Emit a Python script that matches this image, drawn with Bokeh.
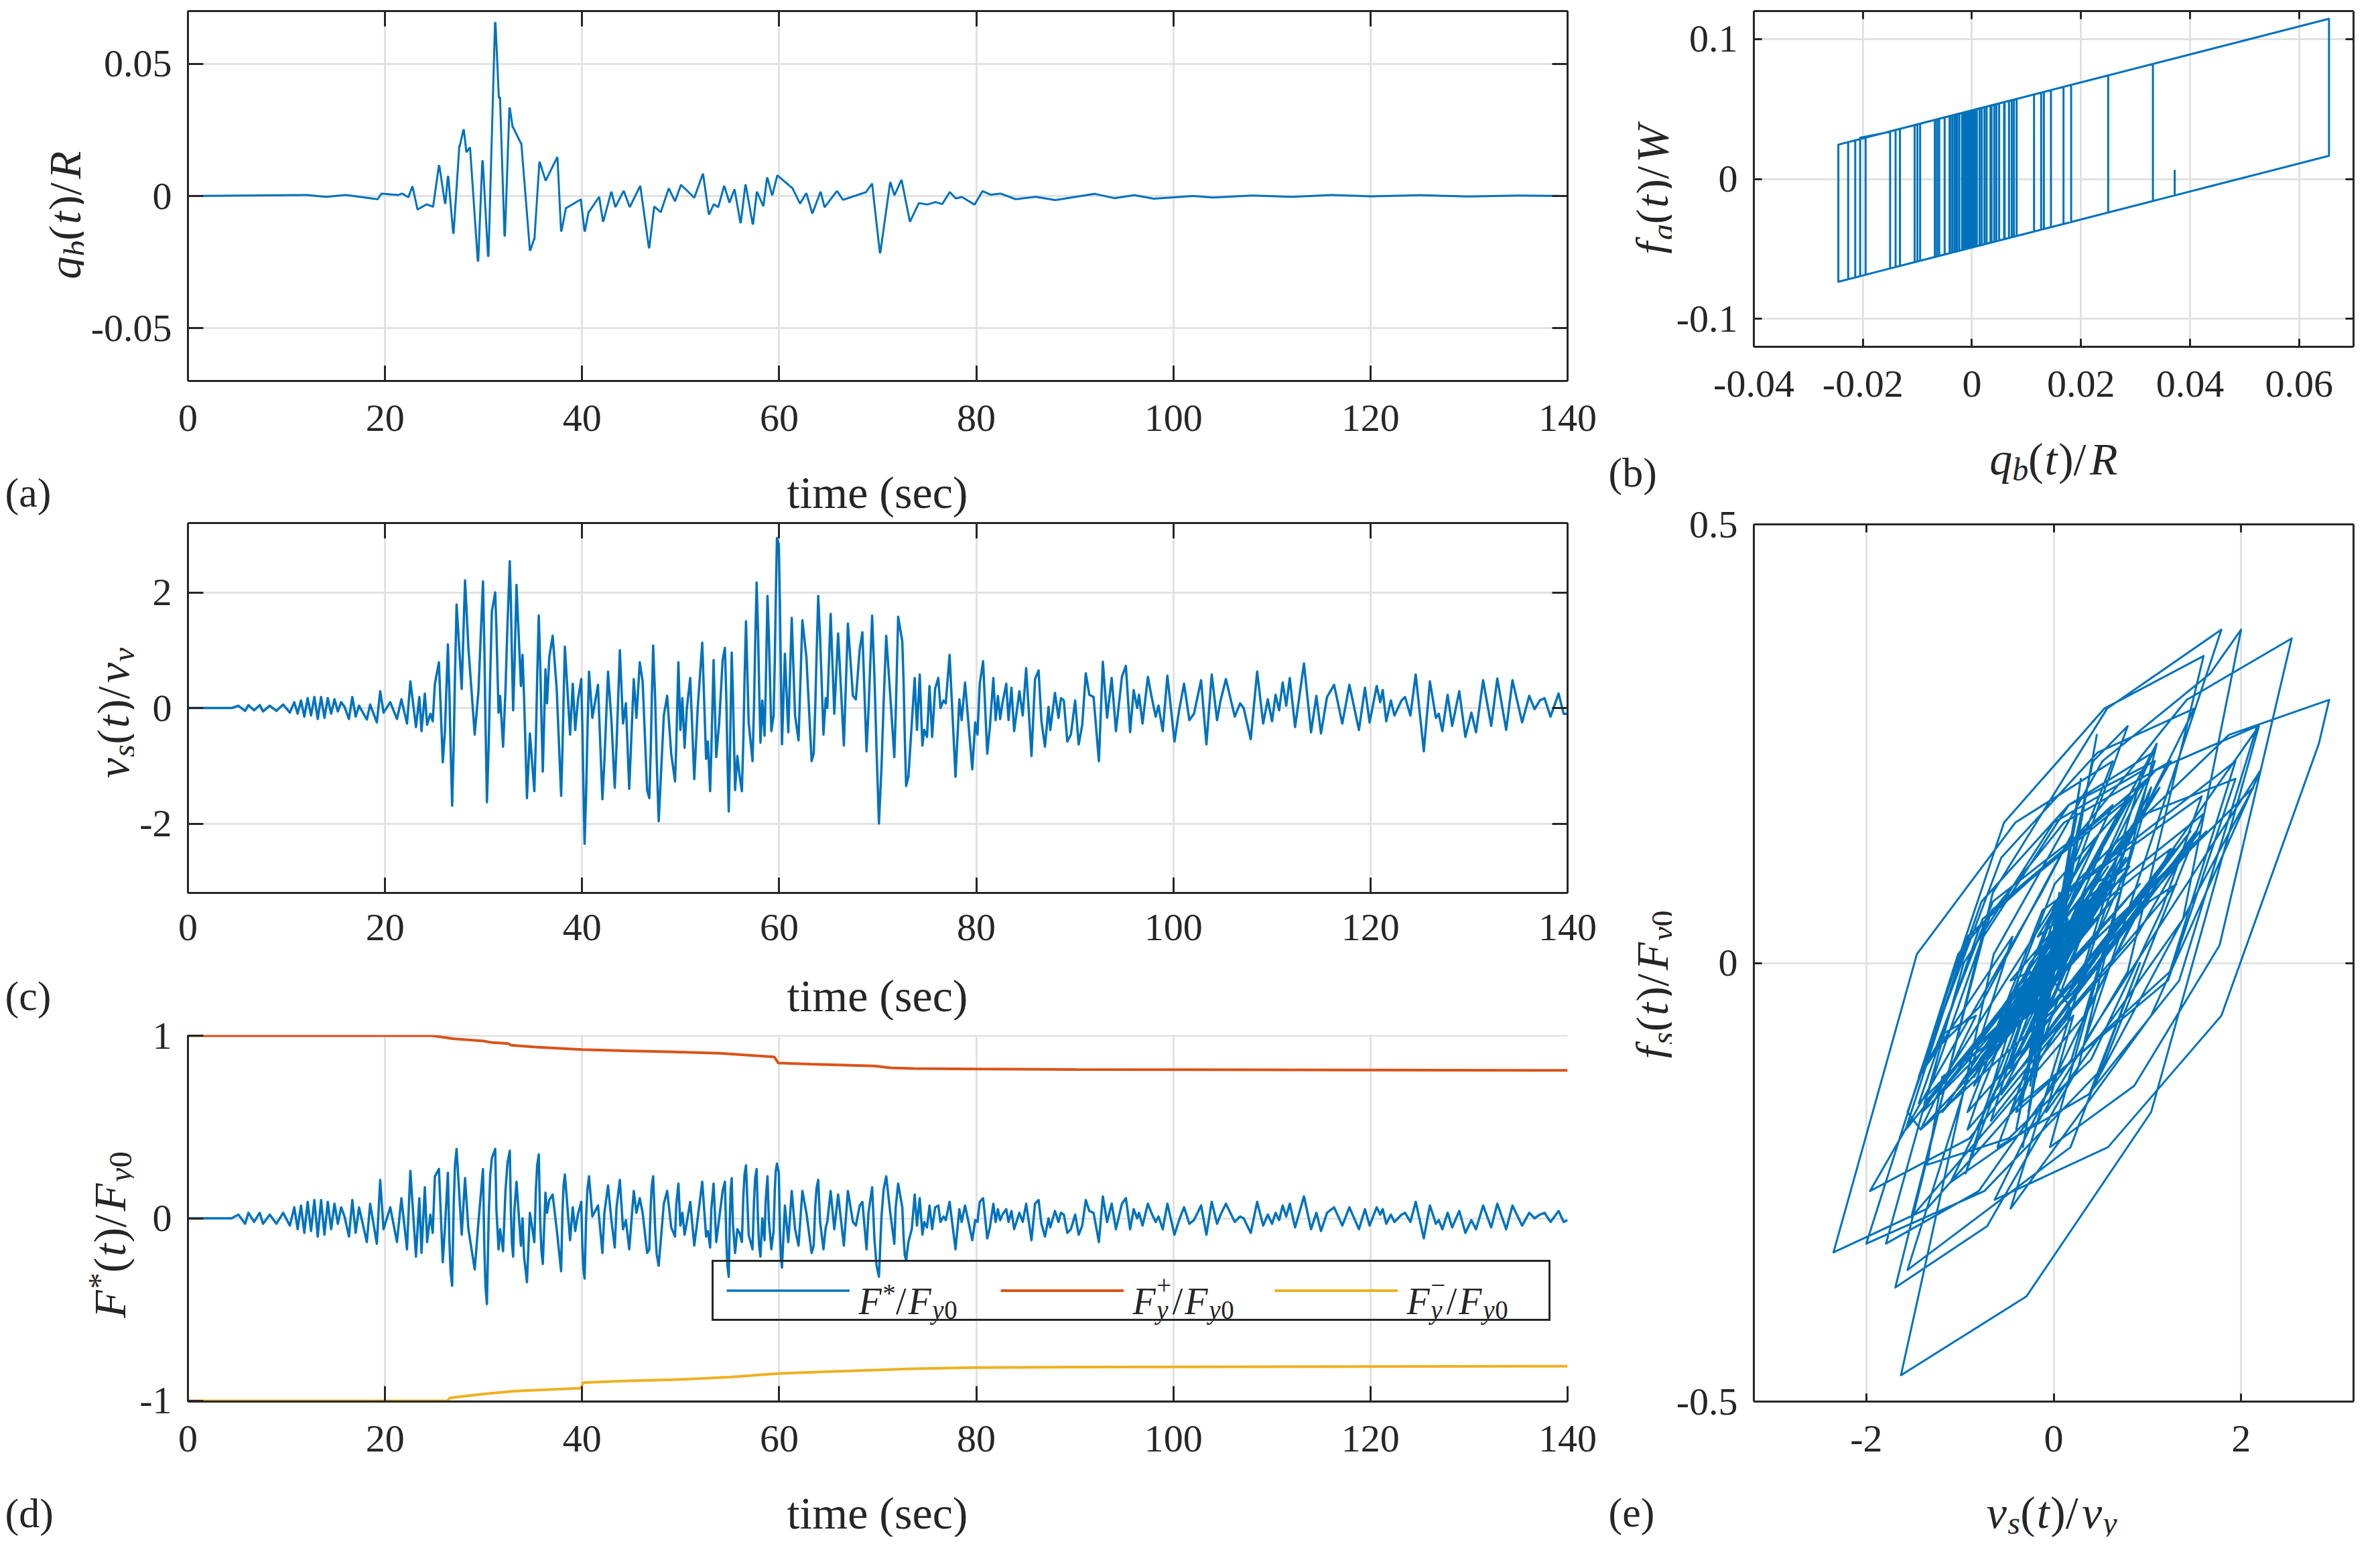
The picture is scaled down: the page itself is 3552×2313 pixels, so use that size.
from math import pi
from bokeh.plotting import figure
from bokeh.layouts import row, column
from bokeh.models import (Range1d, FixedTicker, LinearAxis, Label, Legend,
                          LegendItem, CustomJSTickFormatter)
from bokeh.embed import file_html
from bokeh.resources import INLINE

# ---- data ----
# (a)/(b): base isolator displacement q_b/R at its turning points and the
# friction force f_a/W just before / just after each reversal
qb_t = [0.0, 12.0, 14.0, 16.0, 19.21, 19.63, 21.29, 21.71, 22.33, 22.75,
        23.29, 24.21, 24.83, 25.46, 26.08, 26.37, 26.91, 27.54, 27.95, 28.25,
        28.58, 29.41, 29.87, 30.45, 31.16, 31.55, 31.62, 32.12, 32.62, 32.95,
        33.78, 34.70, 35.11, 35.66, 36.28, 37.45, 37.86, 38.36, 39.82, 40.24,
        40.65, 41.69, 42.11, 42.94, 43.36, 44.19, 44.81, 45.86, 46.77, 47.31,
        47.94, 48.77, 49.40, 50.02, 51.35, 52.23, 52.85, 53.35, 53.77, 54.39,
        54.93, 55.43, 56.06, 56.56, 57.30, 57.72, 58.35, 58.76, 59.26, 59.80,
        61.26, 62.09, 62.72, 63.34, 64.17, 64.59, 65.84, 66.46, 68.75, 69.38,
        70.21, 71.25, 71.67, 72.38, 73.25, 74.17, 75.00, 75.83, 76.50, 77.29,
        77.91, 78.50, 79.79, 80.62, 81.45, 82.41, 84.0, 86.0, 88.0, 92.0,
        94.0, 96.0, 98.0, 102.0, 104.0, 108.0, 112.0, 116.0, 120.0, 125.0,
        130.0, 135.0, 140.0]
qb = [0.0, 0.0004, -0.0003, 0.0004, -0.0012, 0.0009, 0.0004, 0.0009, -0.0004, 0.0034,
      -0.0050, -0.0032, -0.0040, 0.0114, -0.0027, 0.0073, -0.0140, 0.0190, 0.0250, 0.0168,
      0.0182, -0.0245, 0.0132, -0.0227, 0.0655, 0.0372, 0.0372, -0.0150, 0.0332, 0.0260,
      0.0200, -0.0205, -0.0164, 0.0127, 0.0060, 0.0145, -0.0132, -0.0045, -0.0014, -0.0132,
      -0.0060, -0.0005, -0.0095, 0.0014, -0.0040, 0.0018, -0.0040, 0.0036, -0.0195, -0.0041,
      -0.0060, 0.0027, -0.0018, 0.0041, -0.0005, 0.0082, -0.0068, -0.0032, -0.0041, 0.0036,
      -0.0023, 0.0023, -0.0100, 0.0041, -0.0105, 0.0014, -0.0036, 0.0068, 0.0005, 0.0077,
      0.0032, -0.0027, 0.0009, -0.0064, 0.0014, -0.0041, 0.0018, -0.0014, 0.0014, 0.0045,
      -0.0214, 0.0050, 0.0005, 0.0059, -0.0095, -0.0027, -0.0032, -0.0023, -0.0030, 0.0014,
      -0.0009, -0.0004, -0.0032, 0.0018, 0.0005, 0.0009, -0.0012, -0.0003, -0.0015, 0.0008,
      -0.0008, 0.0003, -0.0010, 0.0000, -0.0006, 0.0002, -0.0003, 0.0004, -0.0001, 0.0003,
      -0.0002, 0.0002, 0.0000]
fa_in = [0.0, 0.0494, -0.0493, 0.0494, -0.0502, 0.0499, -0.0486, 0.0499, -0.0494, 0.0524,
         -0.0540, 0.0458, -0.0530, 0.0604, -0.0517, 0.0563, -0.0630, 0.0680, 0.0740, -0.0322,
         0.0672, -0.0735, 0.0622, -0.0717, 0.1145, -0.0118, 0.0060, -0.0640, 0.0822, -0.0230,
         -0.0290, -0.0695, 0.0326, 0.0617, -0.0430, 0.0635, -0.0622, 0.0445, 0.0476, -0.0622,
         0.0430, 0.0485, -0.0585, 0.0504, -0.0530, 0.0508, -0.0530, 0.0526, -0.0685, 0.0449,
         -0.0550, 0.0517, -0.0508, 0.0531, -0.0495, 0.0572, -0.0558, 0.0458, -0.0531, 0.0526,
         -0.0513, 0.0513, -0.0590, 0.0531, -0.0595, 0.0504, -0.0526, 0.0558, -0.0485, 0.0567,
         -0.0458, -0.0517, 0.0499, -0.0554, 0.0504, -0.0531, 0.0508, -0.0504, 0.0504, 0.0535,
         -0.0704, 0.0540, -0.0485, 0.0549, -0.0585, 0.0463, -0.0522, 0.0467, -0.0520, 0.0504,
         -0.0499, 0.0486, -0.0522, 0.0508, -0.0485, 0.0499, -0.0502, 0.0487, -0.0505, 0.0498,
         -0.0498, 0.0493, -0.0500, 0.0490, -0.0496, 0.0492, -0.0493, 0.0494, -0.0491, 0.0493,
         -0.0492, 0.0492, -0.0490]
fa_out = [0.0, -0.0486, 0.0487, -0.0486, 0.0478, -0.0481, 0.0494, -0.0481, 0.0486, -0.0456,
          0.0440, -0.0522, 0.0450, -0.0376, 0.0463, -0.0417, 0.0350, 0.0680, -0.0240, 0.0658,
          -0.0308, 0.0245, -0.0358, 0.0263, 0.0165, 0.0060, -0.0118, 0.0340, -0.0158, -0.0230,
          -0.0290, 0.0295, 0.0326, -0.0363, 0.0550, -0.0345, 0.0358, 0.0445, -0.0504, 0.0358,
          0.0430, -0.0495, 0.0395, -0.0476, 0.0450, -0.0472, 0.0450, -0.0454, 0.0295, -0.0531,
          0.0430, -0.0463, 0.0472, -0.0449, 0.0485, -0.0408, 0.0422, -0.0522, 0.0449, -0.0454,
          0.0467, -0.0467, 0.0390, -0.0449, 0.0385, -0.0476, 0.0454, -0.0422, 0.0495, -0.0413,
          -0.0458, 0.0463, -0.0481, 0.0426, -0.0476, 0.0449, -0.0472, 0.0476, 0.0504, -0.0445,
          0.0276, -0.0440, 0.0495, -0.0431, 0.0395, -0.0517, 0.0458, -0.0513, 0.0460, -0.0476,
          0.0481, -0.0494, 0.0458, -0.0472, 0.0495, -0.0481, 0.0478, -0.0493, 0.0475, -0.0482,
          0.0482, -0.0487, 0.0480, -0.0490, 0.0484, -0.0488, 0.0487, -0.0486, 0.0489, -0.0487,
          0.0488, -0.0488, -0.0490]

# (c)/(d)/(e): superstructure drift v_s/v_y and restoring force F*/F_y0
vs_t = [0.0, 4.44, 5.12, 5.80, 6.14, 6.71, 7.28, 7.62, 8.30, 8.98,
        9.66, 10.34, 10.79, 11.13, 11.47, 11.81, 12.15, 12.49, 12.83, 13.17,
        13.51, 13.85, 14.19, 14.53, 14.87, 15.21, 15.55, 15.89, 16.34, 16.68,
        17.02, 17.36, 18.15, 18.49, 19.17, 19.51, 19.85, 20.53, 21.21, 21.66,
        22.23, 22.57, 23.14, 23.48, 23.70, 24.04, 24.27, 24.60, 24.84, 25.06,
        25.47, 25.86, 26.08, 26.38, 26.53, 26.66, 26.81, 26.97, 27.10, 27.26, 27.78, 28.12,
        28.46, 29.10, 29.48, 29.94, 30.08, 30.20, 30.34, 30.52, 30.67, 30.84, 31.18, 31.30,
        31.52, 31.68, 31.98, 32.22, 32.42, 32.66, 32.78, 32.88, 33.00, 33.12, 33.34, 33.79,
        33.95, 34.11, 34.40, 34.70, 35.15, 35.31, 35.44, 35.60, 35.74, 35.87, 36.01, 36.28,
        36.44, 36.67, 37.01, 37.42, 37.87, 38.00, 38.12, 38.25, 38.78, 39.05, 39.30,
        39.57, 39.91, 40.03, 40.13, 40.25, 40.41, 40.54, 40.70, 41.04, 41.61, 42.06, 42.26,
        42.63, 42.97, 43.31, 43.49, 43.83, 44.15, 44.44, 44.78, 45.24, 45.51,
        45.85, 46.14, 46.60, 46.82, 46.96, 47.07, 47.21, 47.41, 47.57, 47.77, 48.29, 48.63,
        49.04, 49.43, 49.55, 49.77, 49.97, 50.17, 50.40, 50.63, 50.97, 51.38,
        51.73, 52.19, 52.58, 52.76, 52.99, 53.11, 53.34, 53.61, 53.91, 54.26,
        54.49, 54.63, 54.74, 54.88, 54.99, 55.08, 55.18, 55.30, 55.52, 55.75, 55.98, 56.21,
        56.36, 56.48, 56.63, 56.90, 57.29, 57.44, 57.56, 57.71, 57.85, 57.96, 58.10, 58.28, 58.51,
        58.62, 58.81, 58.95, 59.20, 59.43, 59.55, 59.65, 59.77, 59.96, 60.07, 60.17, 60.28,
        60.58, 60.92, 61.27, 61.61, 61.96, 62.35, 62.76, 63.29, 63.50, 63.66,
        63.80, 63.96, 64.15, 64.49, 64.72, 64.88, 65.22, 65.59, 65.98, 66.56, 66.97,
        67.48, 67.78, 68.17, 68.44, 68.86, 69.06, 69.43, 69.67, 69.88, 70.12, 70.38, 70.60,
        70.86, 71.27, 71.68, 71.82, 72.07, 72.49, 72.63, 72.74, 72.88, 73.11, 73.45,
        73.75, 73.98, 74.26, 74.53, 74.72, 75.00, 75.25, 75.52, 75.82, 76.14,
        76.37, 76.67, 76.90, 77.29, 77.89, 78.28, 78.51, 78.86, 79.59, 79.89,
        80.12, 80.35, 80.69, 81.11, 81.38, 81.73, 81.96, 82.19, 82.42, 82.65,
        83.04, 83.27, 83.57, 83.84, 84.37, 84.71, 85.06, 85.60, 85.96, 86.32,
        86.61, 86.97, 87.33, 87.51, 87.98, 88.34, 88.59, 88.88, 89.24, 89.60,
        90.03, 90.39, 90.75, 91.11, 91.47, 91.90, 92.44, 92.84, 93.27, 93.74,
        94.17, 94.78, 95.18, 95.61, 95.97, 96.33, 96.51, 96.87, 97.41, 97.77,
        98.20, 98.49, 98.92, 99.39, 100.11, 100.58, 101.08, 101.62, 102.09, 102.81,
        103.35, 103.89, 104.43, 104.79, 105.33, 106.23, 106.77, 107.13, 107.85, 108.50,
        109.11, 109.58, 110.01, 110.37, 110.73, 111.09, 111.45, 111.81, 112.35, 113.25,
        113.97, 114.51, 114.98, 115.59, 116.31, 117.14, 117.86, 118.83, 119.44, 119.91,
        120.63, 120.99, 121.24, 121.60, 122.07, 122.43, 123.15, 123.51, 124.05, 124.59,
        125.41, 126.03, 126.64, 126.93, 127.29, 127.83, 128.29, 129.01, 129.63, 130.24,
        130.71, 131.43, 132.25, 132.87, 133.77, 134.41, 135.39, 136.11, 136.65, 137.19,
        137.66, 138.27, 139.09, 139.60, 140.00]
vs = [0.0, 0.0, 0.04, -0.05, 0.05, -0.04, 0.05, -0.06, 0.04, -0.05,
      0.06, -0.08, 0.10, -0.10, 0.13, -0.15, 0.17, -0.13, 0.19, -0.19,
      0.19, -0.17, 0.17, -0.10, 0.15, -0.06, 0.10, 0.02, -0.19, 0.19,
      -0.15, 0.04, -0.20, 0.06, -0.25, 0.29, -0.08, 0.10, -0.19, 0.15,
      -0.27, 0.46, -0.33, 0.19, -0.40, 0.25, -0.29, -0.10, -0.23, 0.42,
      0.79, -0.94, -0.40, 1.10, 0.26, -0.71, -1.69, -0.65, 0.57, 1.79, 0.33, 2.21,
      1.04, -0.46, 0.29, 2.19, 1.04, -0.29, -1.63, -0.64, 0.52, 1.67, 2.00, 1.38,
      -0.08, 0.21, -0.67, 0.29, 1.42, 2.54, 1.77, 0.86, -0.04, 0.61, 2.13, 0.38,
      0.92, 0.18, -1.56, -0.44, -1.44, -0.53, 0.54, 1.60, 0.79, -0.16, -1.10, 0.67,
      0.08, 0.88, 1.25, 0.33, -1.52, -0.75, 0.16, 1.06, -0.46, 0.42, -0.38,
      0.13, 0.50, -0.36, -1.35, -2.35, -1.46, -0.41, 0.63, -0.17, 0.40, -1.58, -0.92,
      0.63, -0.21, -1.38, -0.66, 1.00, -0.27, 0.08, -1.40, 0.50, -0.17,
      0.79, 0.46, -1.42, -1.56, -0.77, 0.16, 1.08, 0.17, -0.90, -1.96, -0.13, 0.21,
      -0.79, -1.27, -0.65, 0.79, -0.38, 0.17, -0.69, 0.00, 0.52, -1.23,
      0.00, 1.13, -0.88, -0.58, -1.44, -0.76, 0.83, -0.85, -0.25, 0.83,
      1.04, 0.19, -0.80, -1.79, -0.96, 0.00, 0.96, 0.25, -1.42, -0.83, -1.17, -1.44,
      -0.56, 0.47, 1.50, -0.25, -0.92, 0.01, 1.09, 2.17, 1.34, 0.37, -0.60, 0.13, -0.48,
      0.25, 1.94, 1.24, -0.40, -0.13, 0.80, 1.87, 2.94, 2.83, 1.79, 0.58, -0.63,
      0.94, -0.42, 1.56, -0.13, -0.56, 1.52, 0.88, -0.92, -0.79, 0.03,
      0.98, 1.94, 1.22, -0.46, 0.17, 0.00, 1.63, -0.10, 1.29, -0.65, 1.46,
      0.21, 0.15, 1.02, 1.31, -0.75, -0.04, 1.60, 0.52, -0.74, -2.00, -1.02, 0.11,
      1.25, 0.21, -0.85, -0.12, 1.58, 1.15, 0.40, -0.48, -1.35, -1.19, -0.27,
      0.52, -0.38, 0.58, -0.65, -0.38, -0.50, 0.38, -0.50, 0.33, 0.52,
      0.00, 0.13, 0.08, 0.92, -1.19, 0.15, -0.21, 0.44, -1.06, -0.25,
      -0.46, 0.42, 0.81, -0.79, -0.33, 0.52, -0.21, 0.21, -0.19, 0.08,
      0.42, -0.21, 0.35, -0.40, 0.29, -0.13, 0.69, -0.83, 0.50, 0.65,
      -0.23, -0.67, 0.02, -0.38, 0.26, -0.17, 0.17, 0.13, -0.58, -0.46,
      0.13, -0.63, -0.29, 0.60, 0.23, 0.19, -0.92, 0.80, -0.17, 0.52,
      -0.40, 0.54, 0.73, -0.42, 0.31, 0.00, 0.23, -0.27, 0.54, 0.21,
      -0.15, 0.04, -0.40, 0.56, -0.58, -0.04, 0.42, -0.21, -0.10, 0.48,
      -0.63, 0.58, -0.21, 0.13, 0.50, -0.15, 0.08, 0.00, -0.54, 0.63,
      -0.27, 0.15, -0.23, 0.23, -0.04, 0.44, 0.04, 0.52, -0.33, 0.77,
      -0.42, 0.21, -0.44, 0.19, 0.40, -0.27, 0.40, -0.38, 0.35, -0.25,
      0.38, 0.10, 0.31, -0.23, 0.13, -0.13, 0.13, 0.19, -0.13, 0.58,
      -0.75, 0.46, -0.17, -0.10, -0.40, 0.23, -0.31, 0.29, -0.50, -0.08,
      -0.42, 0.48, -0.31, 0.51, -0.38, 0.48, -0.25, 0.21, -0.02, 0.13,
      0.17, -0.15, 0.25, -0.10, -0.10]
fs = [0.0, 0.0, 0.02, -0.03, 0.03, -0.02, 0.03, -0.03, 0.02, -0.03,
      0.03, -0.04, 0.06, -0.06, 0.07, -0.08, 0.09, -0.07, 0.10, -0.10,
      0.10, -0.09, 0.09, -0.06, 0.08, -0.03, 0.06, 0.01, -0.10, 0.10,
      -0.08, 0.06, -0.13, 0.08, -0.14, 0.21, -0.06, 0.06, -0.13, 0.11,
      -0.17, 0.26, -0.21, 0.11, -0.19, 0.17, -0.13, 0.02, -0.08, 0.23,
      0.27, -0.24, -0.05, 0.25, -0.12, -0.30, -0.37, 0.08, 0.29, 0.38, -0.09, 0.22,
      -0.06, -0.28, -0.02, 0.27, -0.17, -0.38, -0.47, 0.01, 0.23, 0.33, 0.38, 0.05,
      -0.17, -0.06, -0.18, 0.15, 0.30, 0.37, 0.02, -0.14, -0.21, 0.04, 0.20, -0.15,
      0.00, -0.21, -0.35, 0.03, -0.13, 0.16, 0.29, 0.35, -0.01, -0.18, -0.25, 0.14,
      0.03, 0.10, 0.13, -0.06, -0.29, 0.03, 0.18, 0.24, -0.12, 0.06, -0.07,
      0.02, 0.09, -0.16, -0.28, -0.33, 0.01, 0.16, 0.23, 0.01, 0.07, -0.19, 0.03,
      0.18, -0.01, -0.16, 0.06, 0.21, -0.06, -0.01, -0.17, 0.15, 0.03,
      0.11, 0.03, -0.19, -0.17, 0.07, 0.18, 0.23, -0.06, -0.20, -0.26, 0.08, 0.15,
      -0.05, -0.10, 0.07, 0.19, -0.04, 0.03, -0.09, -0.02, 0.09, -0.15,
      0.00, 0.20, -0.10, -0.07, -0.16, 0.05, 0.19, -0.13, 0.00, 0.15,
      0.20, -0.11, -0.26, -0.32, 0.00, 0.16, 0.22, -0.03, -0.19, -0.06, -0.08, -0.13,
      0.12, 0.24, 0.29, -0.09, -0.17, 0.09, 0.22, 0.27, -0.02, -0.15, -0.21, 0.00, -0.12,
      0.09, 0.23, -0.01, -0.17, -0.07, 0.15, 0.26, 0.30, 0.25, -0.06, -0.21, -0.27,
      0.07, -0.13, 0.15, -0.06, -0.15, 0.15, 0.03, -0.19, -0.15, 0.07,
      0.17, 0.21, -0.02, -0.17, -0.05, -0.02, 0.15, -0.06, 0.13, -0.15, 0.15,
      -0.02, -0.04, 0.07, 0.09, -0.17, 0.03, 0.17, -0.12, -0.26, -0.32, 0.01, 0.16,
      0.23, 0.03, -0.14, 0.06, 0.19, 0.06, -0.11, -0.20, -0.23, -0.13, -0.06,
      0.13, -0.04, 0.11, -0.09, -0.02, -0.05, 0.07, -0.06, 0.06, 0.07,
      -0.02, 0.01, -0.01, 0.09, -0.17, 0.05, -0.02, 0.07, -0.12, -0.01,
      -0.02, 0.09, 0.11, -0.11, -0.05, 0.08, -0.02, 0.05, -0.01, 0.02,
      0.05, -0.02, 0.04, -0.06, 0.03, -0.02, 0.08, -0.12, 0.08, 0.10,
      -0.03, -0.10, 0.00, -0.05, 0.04, -0.02, 0.03, 0.02, -0.08, -0.06,
      0.02, -0.09, -0.04, 0.10, 0.04, 0.03, -0.13, 0.12, -0.02, 0.08,
      -0.06, 0.08, 0.11, -0.06, 0.05, 0.00, 0.03, -0.04, 0.08, 0.03,
      -0.02, 0.01, -0.06, 0.08, -0.09, -0.01, 0.06, -0.03, -0.01, 0.07,
      -0.09, 0.09, -0.03, 0.02, 0.08, -0.02, 0.01, 0.00, -0.08, 0.09,
      -0.04, 0.02, -0.03, 0.03, -0.01, 0.07, 0.01, 0.08, -0.05, 0.12,
      -0.06, 0.03, -0.07, 0.03, 0.06, -0.04, 0.06, -0.06, 0.05, -0.04,
      0.06, 0.02, 0.05, -0.03, 0.02, -0.02, 0.02, 0.03, -0.02, 0.09,
      -0.11, 0.07, -0.03, -0.01, -0.06, 0.03, -0.05, 0.04, -0.08, -0.01,
      -0.06, 0.07, -0.05, 0.08, -0.06, 0.07, -0.04, 0.03, 0.00, 0.02,
      0.03, -0.02, 0.04, -0.02, -0.01]

# (d): degrading yield strengths
fyp_t = [0, 24.8, 26.9, 30.0, 30.7, 32.5, 32.8, 35.3, 40.0, 44.3, 49.4,
         54.0, 59.5, 59.9, 63.2, 69.7, 71.3, 73.6, 80.0, 90.0, 140.0]
fyp = [1.0, 1.0, 0.984, 0.971, 0.964, 0.957, 0.948, 0.938, 0.924, 0.918, 0.911,
       0.904, 0.884, 0.851, 0.844, 0.834, 0.824, 0.820, 0.818, 0.815, 0.810]
fym_t = [0, 26.3, 26.6, 29.8, 33.0, 39.9, 40.1, 44.3, 49.4, 55.0, 59.8,
         65.0, 70.1, 73.6, 80.0, 90.0, 140.0]
fym = [-1.0, -1.0, -0.984, -0.964, -0.947, -0.931, -0.900, -0.891, -0.884, -0.870, -0.851,
       -0.840, -0.831, -0.824, -0.818, -0.815, -0.810]

# ticks and tick labels
time_ticks = [0, 20, 40, 60, 80, 100, 120, 140]
time_labels = ["0", "20", "40", "60", "80", "100", "120", "140"]
qa_ticks = [-0.05, 0.0, 0.05]
qa_labels = ["-0.05", "0", "0.05"]
qbx_ticks = [-0.04, -0.02, 0.0, 0.02, 0.04, 0.06]
qbx_labels = ["-0.04", "-0.02", "0", "0.02", "0.04", "0.06"]
fa_ticks = [-0.1, 0.0, 0.1]
fa_labels = ["-0.1", "0", "0.1"]
vs_ticks = [-2, 0, 2]
vs_labels = ["-2", "0", "2"]
fd_ticks = [-1, 0, 1]
fd_labels = ["-1", "0", "1"]
fe_ticks = [-0.5, 0.0, 0.5]
fe_labels = ["-0.5", "0", "0.5"]

BLUE, ORANGE, YELLOW = "#0072BD", "#D95319", "#EDB120"
INK, GRID = "#262626", "#e2e2e2"
FONT = "Liberation Serif"
TICK_PX, LAB_PX, TAG_PX = 58, 68, 62

# rough advance widths (em) used to place the pieces of the math labels
WIDTH = {"q": 0.5, "b": 0.5, "t": 0.3, "R": 0.63, "f": 0.32, "a": 0.5, "W": 0.85,
         "v": 0.46, "s": 0.4, "y": 0.46, "F": 0.64, "(": 0.36, ")": 0.36, "/": 0.33,
         "0": 0.5, "*": 0.5, "+": 0.6, "\u2212": 0.6}


def style_axis(ax, tick_len, standoff, shown=True):
    ax.axis_line_color = INK
    ax.axis_line_width = 3
    ax.major_tick_line_color = INK
    ax.major_tick_line_width = 3
    ax.major_tick_in = tick_len
    ax.major_tick_out = 0
    ax.minor_tick_line_color = None
    ax.major_label_text_font = FONT
    ax.major_label_text_font_size = f"{TICK_PX}px" if shown else "1px"
    ax.major_label_text_color = INK
    ax.major_label_standoff = standoff


def make_panel(xr, yr, fw, fh, border, xt, xl, yt, yl, tick_len, box=True, xstand=36):
    left, right, top, bottom = border
    p = figure(frame_width=fw, frame_height=fh, x_range=Range1d(*xr), y_range=Range1d(*yr),
               min_border_left=left, min_border_right=right,
               min_border_top=top, min_border_bottom=bottom,
               toolbar_location=None, output_backend="svg",
               background_fill_color="white", border_fill_color="white")
    p.outline_line_color = None
    p.xaxis.ticker = FixedTicker(ticks=xt)
    p.yaxis.ticker = FixedTicker(ticks=yt)
    p.xaxis.major_label_overrides = dict(zip(xt, xl))
    p.yaxis.major_label_overrides = dict(zip(yt, yl))
    style_axis(p.xaxis[0], tick_len, xstand)
    style_axis(p.yaxis[0], tick_len, 24)
    p.xgrid.ticker = FixedTicker(ticks=xt)
    p.ygrid.ticker = FixedTicker(ticks=yt)
    p.grid.grid_line_color = GRID
    p.grid.grid_line_width = 3
    if box:
        top_ax = LinearAxis(ticker=FixedTicker(ticks=xt),
                            formatter=CustomJSTickFormatter(code="return ''"))
        style_axis(top_ax, tick_len, 0, shown=False)
        p.add_layout(top_ax, "above")
        right_ax = LinearAxis(ticker=FixedTicker(ticks=yt),
                              formatter=CustomJSTickFormatter(code="return ''"))
        style_axis(right_ax, tick_len, 0, shown=False)
        p.add_layout(right_ax, "right")
    return p


def strip(w, h):
    # blank strip that carries axis titles / panel letters (its frame is the whole strip)
    s = figure(frame_width=w, frame_height=h, x_range=Range1d(0, w), y_range=Range1d(0, h),
               min_border=0, x_axis_location=None, y_axis_location=None,
               toolbar_location=None, output_backend="svg",
               background_fill_color="white", border_fill_color="white")
    s.outline_line_color = None
    s.grid.visible = False
    return s


def put_label(p, **kw):
    p.add_layout(Label(x_units="screen", y_units="screen", level="overlay",
                       text_font=FONT, text_color=INK, text_baseline="alphabetic", **kw))


def split_runs(s):
    out = []
    for c in s:
        st = "italic" if c.isalpha() else "normal"
        if out and out[-1][1] == st:
            out[-1][0] += c
        else:
            out.append([c, st])
    return out


def math_text(p, parts, x, y, size, vertical=False, align="center"):
    # parts: (main, subscript, superscript); x, y in px from the frame's bottom-left
    small = 0.7 * size
    items, pos = [], 0.0
    for main, sub, sup in parts:
        for chunk, st in split_runs(main):
            items.append((chunk, size, st, pos, 0.0))
            pos += sum(WIDTH.get(c, 0.5) for c in chunk) * size
        ends = [pos]
        for scr, shift in ((sup, 0.22 if sup == "*" else 0.42), (sub, -0.24)):
            q = pos
            for chunk, st in split_runs(scr):
                items.append((chunk, small, st, q, shift * size))
                q += sum(WIDTH.get(c, 0.5) for c in chunk) * small
            ends.append(q)
        pos = max(ends)
    start = -pos / 2 if align == "center" else 0.0
    for chunk, fsz, st, a, d in items:
        if vertical:
            lx, ly, ang = x - d, y + start + a, pi / 2
        else:
            lx, ly, ang = x + start + a, y + d, 0.0
        put_label(p, x=lx, y=ly, text=chunk, angle=ang, text_font_size=f"{fsz:.0f}px",
                  text_font_style=st, text_align="left")


def plain(p, txt, x, y, size, align="center"):
    put_label(p, x=x, y=y, text=txt, text_font_size=f"{size}px", text_align=align)


# turning points -> path (value just before and just after each reversal)
qa_t, qa_q, qa_f = [], [], []
for t, q, fi, fo in zip(qb_t, qb, fa_in, fa_out):
    qa_t += [t, t + 0.05]
    qa_q += [q, q]
    qa_f += [fi, fo]

# ---- (a) ----
pa = make_panel((0, 140), (-0.07, 0.07), 2059, 552, (155, 60, 16, 104),
                time_ticks, time_labels, qa_ticks, qa_labels, 23)
pa.line(qa_t, qa_q, line_color=BLUE, line_width=3, line_join="round")
ya = strip(125, 672)
math_text(ya, [("q", "b", ""), ("(t)/R", "", "")], 96, 368, LAB_PX, vertical=True)
xa = strip(2399, 102)
plain(xa, "time (sec)", 1309, 40, LAB_PX)
plain(xa, "(a)", 7, 40, TAG_PX, align="left")

# ---- (b) ----
pb = make_panel((-0.04, 0.07), (-0.12, 0.12), 895, 501, (122, 20, 16, 104),
                qbx_ticks, qbx_labels, fa_ticks, fa_labels, 12)
pb.line(qa_q, qa_f, line_color=BLUE, line_width=3, line_join="round")
yb = strip(96, 621)
math_text(yb, [("f", "a", ""), ("(t)/W", "", "")], 66, 355, LAB_PX, vertical=True)
xb = strip(1133, 129)
math_text(xb, [("q", "b", ""), ("(t)/R", "", "")], 666, 66, LAB_PX)
plain(xb, "(b)", 1, 46, TAG_PX, align="left")

# ---- (c) ----
pc = make_panel((0, 140), (-3.2, 3.2), 2059, 552, (80, 60, 6, 100),
                time_ticks, time_labels, vs_ticks, vs_labels, 23, xstand=32)
pc.line(vs_t, vs, line_color=BLUE, line_width=3.5, line_join="round")
yc = strip(200, 658)
math_text(yc, [("v", "s", ""), ("(t)/v", "y", "")], 168, 375, LAB_PX, vertical=True)
xc = strip(2399, 90)
plain(xc, "time (sec)", 1309, 37, LAB_PX)
plain(xc, "(c)", 7, 37, TAG_PX, align="left")

# ---- (d) ----
pd = make_panel((0, 140), (-1.004, 1.004), 2059, 547, (80, 60, 22, 104),
                time_ticks, time_labels, fd_ticks, fd_labels, 23, box=False)
r1 = pd.line(vs_t, fs, line_color=BLUE, line_width=3.5, line_join="round")
r2 = pd.line(fyp_t, fyp, line_color=ORANGE, line_width=4)
r3 = pd.line(fym_t, fym, line_color=YELLOW, line_width=4)
LEG_X, LEG_Y, PAD, GW, GS, LW, SP = 782, 120, 19, 184, 16, 190, 19
legend = Legend(items=[LegendItem(label=" ", renderers=[r]) for r in (r1, r2, r3)],
                location=(LEG_X, LEG_Y), orientation="horizontal",
                glyph_width=GW, glyph_height=47, label_standoff=GS, label_width=LW,
                spacing=SP, padding=PAD, margin=0, label_text_font_size="10px",
                border_line_color=INK, border_line_width=3, border_line_alpha=1.0,
                background_fill_alpha=0.0)
pd.add_layout(legend)
leg_parts = [[("F", "", "*"), ("/F", "y0", "")],
             [("F", "y", "+"), ("/F", "y0", "")],
             [("F", "y", "\u2212"), ("/F", "y0", "")]]
for i, parts in enumerate(leg_parts):
    x0 = LEG_X + PAD + GW + GS + i * (GW + GS + LW + SP)
    math_text(pd, parts, x0, LEG_Y + 30, 56, align="left")
yd = strip(200, 673)
math_text(yd, [("F", "", "*"), ("(t)/F", "y0", "")], 163, 375, LAB_PX, vertical=True)
xd = strip(2399, 98)
plain(xd, "time (sec)", 1309, 36, LAB_PX)
plain(xd, "(d)", 7, 36, TAG_PX, align="left")

# ---- (e) ----
pe = make_panel((-3.2, 3.2), (-0.5, 0.5), 895, 1309, (122, 20, 32, 104),
                vs_ticks, vs_labels, fe_ticks, fe_labels, 12)
pe.line(vs, fs, line_color=BLUE, line_width=3, line_join="round")
ye = strip(96, 1445)
math_text(ye, [("f", "s", ""), ("(t)/F", "y0", "")], 66, 758, LAB_PX, vertical=True)
xe = strip(1133, 98)
math_text(xe, [("v", "s", ""), ("(t)/v", "y", "")], 663, 37, LAB_PX)
plain(xe, "(e)", 1, 37, TAG_PX, align="left")

panel_a = column(row(ya, pa), xa)
panel_b = column(row(yb, pb), xb)
panel_c = column(row(yc, pc), xc)
panel_d = column(row(yd, pd), xd)
panel_e = column(row(ye, pe), xe)
layout = row(column(panel_a, panel_c, panel_d), column(panel_b, panel_e))
open("out.html", "w").write(file_html(layout, INLINE))
